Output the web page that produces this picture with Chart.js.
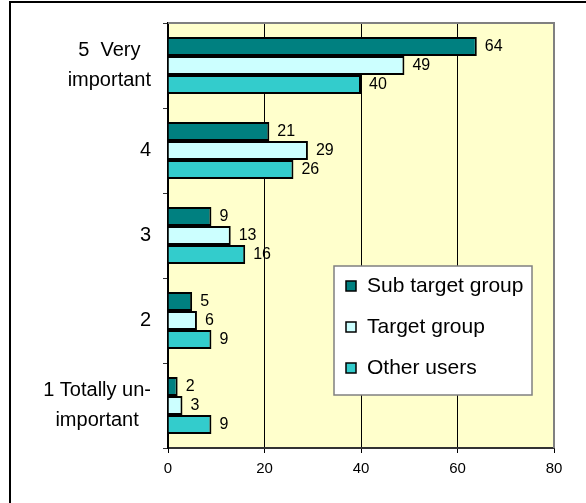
<!DOCTYPE html>
<html>
<head>
<meta charset="utf-8">
<script src="https://cdn.jsdelivr.net/npm/chart.js@4.4.1/dist/chart.umd.min.js"></script>
<style>
  html,body{margin:0;padding:0;background:#fff;}
  #wrap{width:586px;height:503px;position:relative;}
</style>
</head>
<body>
<div id="wrap"><canvas id="c" width="586" height="503"></canvas></div>
<script>
// importance ratings, answer counts per group
const categories=[['5  Very','important'],['4'],['3'],['2'],['1 Totally un-','important']];
const seriesNames=['Sub target group','Target group','Other users'];
const subTarget=[64,21,9,5,2];
const targetGroup=[49,29,13,6,3];
const otherUsers=[40,26,16,9,9];
const xTicks=[0,20,40,60,80];

const FONT="Arial, 'Liberation Sans', sans-serif";
const colors=['#008080','#CCFFFF','#33CCCC'];

// frame, plot background and plot border
const backdrop={
  id:'backdrop',
  beforeDraw(chart){
    const {ctx,chartArea:a}=chart;
    ctx.save();
    ctx.fillStyle='#FFFFCC';
    ctx.fillRect(a.left,a.top,a.right-a.left,a.bottom-a.top);
    ctx.restore();
  },
  beforeDatasetsDraw(chart){
    const {ctx,chartArea:a}=chart;
    ctx.save();
    ctx.fillStyle='#808080';
    ctx.fillRect(a.left,a.top-1,a.right-a.left+1,2);
    ctx.fillRect(a.right-1,a.top-1,2,a.bottom-a.top+1);
    ctx.restore();
  },
  afterDraw(chart){
    const ctx=chart.ctx;
    ctx.save();
    ctx.fillStyle='#000';
    ctx.fillRect(9,1,577,2);
    ctx.fillRect(9,1,2,502);
    ctx.restore();
  }
};

// category names: lines centred inside a right-aligned block
const catLabels={
  id:'catLabels',
  afterDraw(chart){
    const {ctx}=chart;
    const y=chart.scales.y;
    ctx.save();
    ctx.font='20px '+FONT;
    ctx.fillStyle='#000';
    ctx.textAlign='center';
    ctx.textBaseline='middle';
    const right=151, lh=30;
    categories.forEach((lines,i)=>{
      const cy=y.getPixelForValue(i);
      const w=Math.max(...lines.map(l=>ctx.measureText(l).width));
      const cx=right-w/2;
      lines.forEach((l,j)=>{
        ctx.fillText(l,cx,cy+(j-(lines.length-1)/2)*lh);
      });
    });
    ctx.restore();
  }
};

// value labels at the end of every bar
const valueLabels={
  id:'valueLabels',
  afterDatasetsDraw(chart){
    const {ctx}=chart;
    ctx.save();
    ctx.font='16px '+FONT;
    ctx.fillStyle='#000';
    ctx.textAlign='left';
    ctx.textBaseline='middle';
    chart.data.datasets.forEach((ds,di)=>{
      chart.getDatasetMeta(di).data.forEach((el,i)=>{
        ctx.fillText(String(ds.data[i]),el.x+8,el.y);
      });
    });
    ctx.restore();
  }
};

// boxed legend sitting inside the plot
const boxLegend={
  id:'boxLegend',
  afterDraw(chart){
    const {ctx}=chart;
    const bx=334,by=266,bw=198,bh=129;
    ctx.save();
    ctx.fillStyle='#fff';
    ctx.fillRect(bx,by,bw,bh);
    ctx.strokeStyle='#808080';ctx.lineWidth=1.5;
    ctx.strokeRect(bx,by,bw,bh);
    ctx.font='21px '+FONT;
    ctx.textBaseline='middle';
    ctx.textAlign='left';
    chart.data.datasets.forEach((ds,i)=>{
      const cy=286+i*41;
      ctx.fillStyle=ds.backgroundColor;
      ctx.fillRect(346,cy-5,10,10);
      ctx.strokeStyle='#000';ctx.lineWidth=1.5;
      ctx.strokeRect(346,cy-5,10,10);
      ctx.fillStyle='#000';
      ctx.fillText(ds.label,367,cy);
    });
    ctx.restore();
  }
};

new Chart(document.getElementById('c'),{
  type:'bar',
  data:{
    labels:categories.map(l=>l.join(' ')),
    datasets:[
      {label:seriesNames[0],data:subTarget,backgroundColor:colors[0]},
      {label:seriesNames[1],data:targetGroup,backgroundColor:colors[1]},
      {label:seriesNames[2],data:otherUsers,backgroundColor:colors[2]}
    ].map(d=>Object.assign(d,{borderColor:'#000',borderWidth:2,
      categoryPercentage:0.67,barPercentage:1}))
  },
  options:{
    indexAxis:'y',
    responsive:false,
    animation:false,
    devicePixelRatio:1,
    layout:{padding:{top:23,right:32,left:0,bottom:0}},
    plugins:{legend:{display:false},tooltip:{enabled:false}},
    scales:{
      x:{
        min:xTicks[0],max:xTicks[xTicks.length-1],
        afterBuildTicks(s){s.ticks=xTicks.map(v=>({value:v}));},
        afterFit(s){s.height=55;},
        ticks:{color:'#000',font:{family:FONT,size:15},padding:7},
        grid:{
          color:c=>c.tick&&c.tick.value===80?'rgba(0,0,0,0)':'#000',
          lineWidth:1,tickLength:5,tickColor:'#000',tickWidth:1
        },
        border:{color:'#333',width:2}
      },
      y:{
        afterFit(s){s.width=168;},
        ticks:{display:false},
        grid:{drawOnChartArea:false,tickLength:5,tickColor:'#333',tickWidth:1,offset:true},
        border:{color:'#000',width:2}
      }
    }
  },
  plugins:[backdrop,valueLabels,catLabels,boxLegend]
});
</script>
</body>
</html>
